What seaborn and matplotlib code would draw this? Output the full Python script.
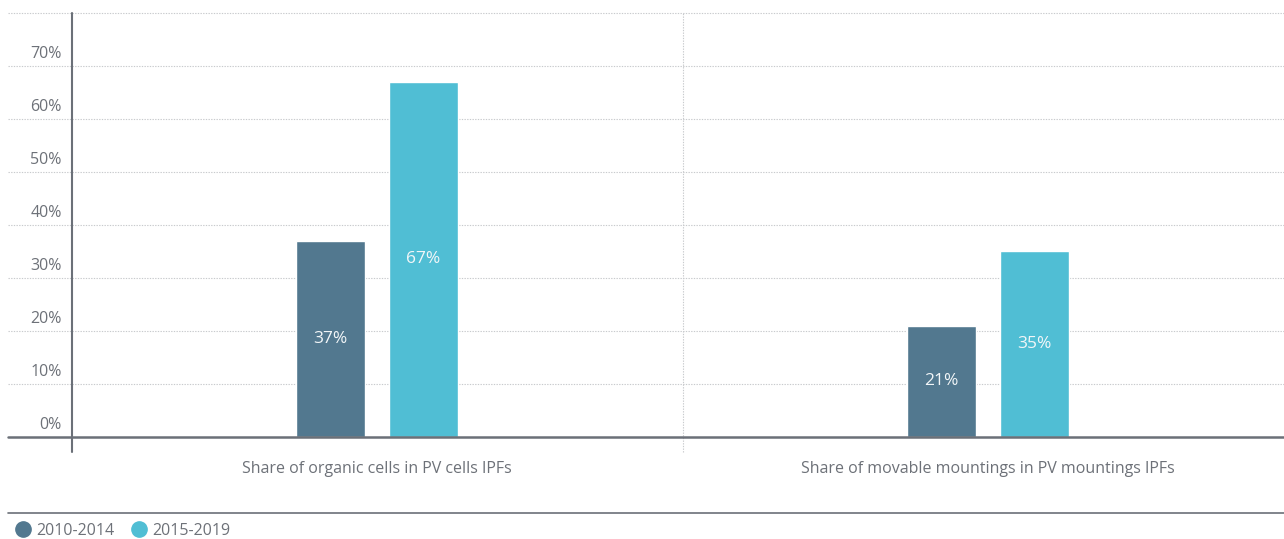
import matplotlib
matplotlib.use("Agg")
import matplotlib.pyplot as plt
from matplotlib.lines import Line2D
from matplotlib.transforms import ScaledTranslation
import pandas as pd
import seaborn as sns

# Data
categories = [
    "Share of organic cells in PV cells IPFs",
    "Share of movable mountings in PV mountings IPFs",
]
periods = ["2010-2014", "2015-2019"]
values_2010_2014 = [37, 21]
values_2015_2019 = [67, 35]
y_ticks = [0, 10, 20, 30, 40, 50, 60, 70]
y_tick_labels = ["0%", "10%", "20%", "30%", "40%", "50%", "60%", "70%"]

colors = ["#52788f", "#50bed4"]
text_gray = "#6d7178"
grid_gray = "#c8cacd"
axis_gray = "#6b7078"

df = pd.DataFrame({
    "category": categories * 2,
    "period": [periods[0]] * 2 + [periods[1]] * 2,
    "value": values_2010_2014 + values_2015_2019,
})

sns.set_style("white")
plt.rcParams["font.family"] = ["Open Sans", "DejaVu Sans"]

W, H = 1284, 539
fig = plt.figure(figsize=(W / 100, H / 100), dpi=100)
ax_left, ax_right = 71.5, 1293.5
ax_top, ax_bottom = 13, 437
ax = fig.add_axes([ax_left / W, 1 - ax_bottom / H,
                   (ax_right - ax_left) / W, (ax_bottom - ax_top) / H])

sns.barplot(data=df, x="category", y="value", hue="period",
            hue_order=periods, order=categories, palette=colors,
            width=0.304, gap=0.26, saturation=1, legend=False, ax=ax)

ax.set_xlim(-0.5, 1.5)
ax.set_ylim(0, 80)
for s in ax.spines.values():
    s.set_visible(False)

# Gridlines extend a little to the left of the vertical axis
ext = -(ax_left - 8) / (ax_right - ax_left)
for yv in y_ticks[1:] + [80]:
    ax.plot([ext, 1], [yv, yv], transform=ax.get_yaxis_transform(),
            color=grid_gray, lw=0.8, ls=(0, (1.2, 1.2)), clip_on=False, zorder=0)
ax.plot([ext, 1], [0, 0], transform=ax.get_yaxis_transform(),
        color=axis_gray, lw=1.8, clip_on=False, zorder=3)

# Vertical axis line and group separator
below = -(452 - ax_bottom) / (ax_bottom - ax_top)
ax.plot([0, 0], [below, 1], transform=ax.transAxes, color=axis_gray,
        lw=1.5, clip_on=False, zorder=3)
ax.plot([0.5, 0.5], [below, 1], transform=ax.get_xaxis_transform(),
        color=grid_gray, lw=0.8, ls=(0, (1.2, 1.2)), clip_on=False, zorder=0)

# Y ticks
ax.set_yticks(y_ticks)
ax.set_yticklabels(y_tick_labels)
ax.tick_params(axis="y", length=0, pad=7, labelsize=11.5, labelcolor=text_gray)
for lab in ax.get_yticklabels():
    lab.set_verticalalignment("bottom")
    lab.set_transform(lab.get_transform() + ScaledTranslation(0, 3 / 72, fig.dpi_scale_trans))

# X ticks
ax.tick_params(axis="x", length=0, pad=17, labelsize=11.5, labelcolor=text_gray)
ax.set_xlabel("")
ax.set_ylabel("")

# Value labels in the middle of each bar
for container in ax.containers:
    for rect in container:
        v = rect.get_height()
        ax.text(rect.get_x() + rect.get_width() / 2, v / 2, f"{v:.0f}%",
                ha="center", va="center", color="#f2f6f8", fontsize=12.5)

# Legend strip at the bottom
fig.add_artist(Line2D([8 / W, 1], [1 - 513 / H] * 2, color=axis_gray, lw=1.2))
handles = [Line2D([], [], marker="o", ls="none", markersize=11,
                  markerfacecolor=c, markeredgecolor=c) for c in colors]
fig.legend(handles, periods, loc="center left",
           bbox_to_anchor=(15 / W, 1 - 531 / H), ncol=2, frameon=False,
           fontsize=11.5, labelcolor=text_gray, handletextpad=0.35,
           columnspacing=1.0, borderaxespad=0, borderpad=0, handlelength=1.0)

fig.savefig("out.png", dpi=100)
